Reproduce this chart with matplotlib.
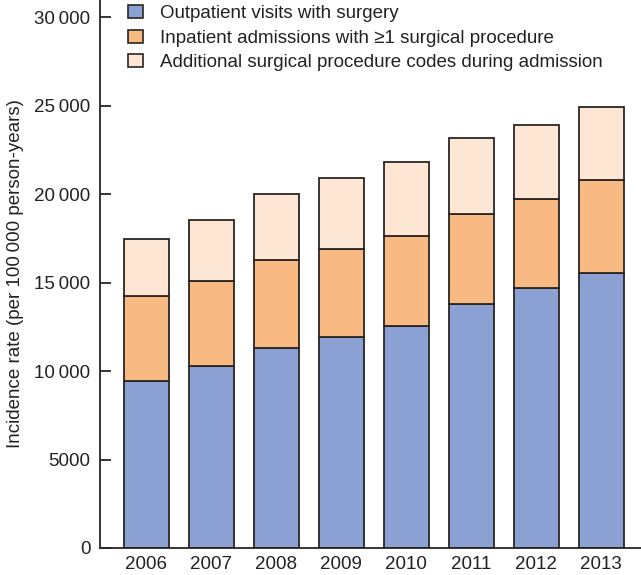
import matplotlib
matplotlib.use('Agg')
import matplotlib.pyplot as plt
from matplotlib.patches import Patch
from matplotlib.ticker import FuncFormatter

plt.rcParams['font.family'] = ['Liberation Sans', 'DejaVu Sans']

years = ['2006', '2007', '2008', '2009', '2010', '2011', '2012', '2013']
# stacked segment tops
outpatient = [9440, 10300, 11330, 11950, 12560, 13790, 14690, 15570]
inpatient_top = [14220, 15100, 16300, 16890, 17660, 18870, 19730, 20790]
total_top = [17490, 18550, 20030, 20900, 21830, 23180, 23920, 24930]

inpatient = [b - a for a, b in zip(outpatient, inpatient_top)]
additional = [b - a for a, b in zip(inpatient_top, total_top)]

labels = ['Outpatient visits with surgery',
          'Inpatient admissions with \u22651 surgical procedure',
          'Additional surgical procedure codes during admission']
colors = ['#8ca1d3', '#f9b983', '#fde6d3']
edge = '#2a2522'
text_col = '#222222'
fs = 13.5

fig = plt.figure(figsize=(6.41, 5.75), dpi=100)
ax = fig.add_axes([100 / 641, 27 / 575, 541 / 641, 548 / 575])

x = range(len(years))
w = 0.69
ax.bar(x, outpatient, w, color=colors[0], edgecolor=edge, linewidth=1.3)
ax.bar(x, inpatient, w, bottom=outpatient, color=colors[1], edgecolor=edge, linewidth=1.3)
ax.bar(x, additional, w, bottom=inpatient_top, color=colors[2], edgecolor=edge, linewidth=1.3)

ax.set_xlim(-0.715, 7.61)
ax.set_ylim(0, 30980)
ax.set_yticks(range(0, 30001, 5000))
ax.yaxis.set_major_formatter(FuncFormatter(
    lambda v, p: f'{int(v):,}'.replace(',', '\u2009') if v >= 10000 else f'{int(v)}'))
ax.set_xticks(list(x))
ax.set_xticklabels(years)

for s in ['top', 'right']:
    ax.spines[s].set_visible(False)
for s in ['left', 'bottom']:
    ax.spines[s].set_color(edge)
    ax.spines[s].set_linewidth(1.3)

ax.tick_params(axis='y', direction='in', length=8, width=1.3, color=edge,
               labelsize=fs, labelcolor=text_col, pad=7)
ax.tick_params(axis='x', length=0, labelsize=fs, labelcolor=text_col, pad=6)

ax.set_ylabel('Incidence rate (per 100\u2009000 person-years)', fontsize=fs,
              color=text_col, labelpad=7)

handles = [Patch(facecolor=c, edgecolor=edge, linewidth=1.2) for c in colors]
ax.legend(handles, labels, loc='upper left', bbox_to_anchor=(0.052, 0.991),
          frameon=False, fontsize=fs, labelcolor=text_col,
          handlelength=0.8, handleheight=0.7, handletextpad=0.9,
          labelspacing=0.4, borderaxespad=0.0, borderpad=0.0)

fig.savefig('out.png', dpi=100)
